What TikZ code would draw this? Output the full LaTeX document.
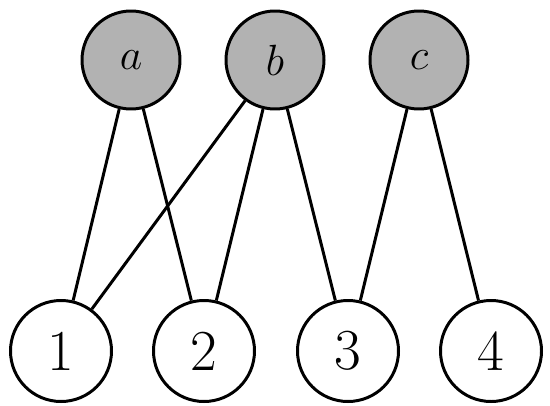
\documentclass[tikz,border=0pt]{standalone}
\begin{document}
\begin{tikzpicture}[
    topnode/.style={draw, circle, line width=1.7pt, fill=black!30, minimum size=1.96cm, inner sep=0pt, font=\fontsize{33}{40}\selectfont},
    botnode/.style={draw, circle, line width=1.7pt, fill=white, minimum size=2.02cm, inner sep=0pt, font=\fontsize{33}{40}\selectfont},
    edge/.style={line width=1.7pt}
]
    \useasboundingbox (0,0) rectangle (11,8.1);

    % Nodi superiori
    \node[topnode] (a) at (2.62,6.9) {$a$};
    \node[topnode] (b) at (5.5,6.9) {$b$};
    \node[topnode] (c) at (8.38,6.9) {$c$};

    % Nodi inferiori
    \node[botnode] (n1) at (1.22,1.08) {1};
    \node[botnode] (n2) at (4.08,1.08) {2};
    \node[botnode] (n3) at (6.96,1.08) {3};
    \node[botnode] (n4) at (9.82,1.08) {4};

    % Archi
    \draw[edge] (a) -- (n1);
    \draw[edge] (a) -- (n2);
    \draw[edge] (b) -- (n1);
    \draw[edge] (b) -- (n2);
    \draw[edge] (b) -- (n3);
    \draw[edge] (c) -- (n3);
    \draw[edge] (c) -- (n4);
\end{tikzpicture}
\end{document}
